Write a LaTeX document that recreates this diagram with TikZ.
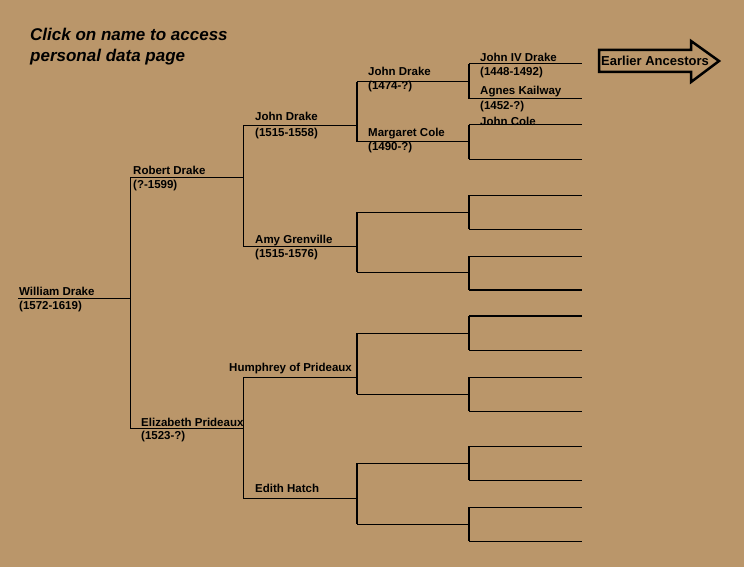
\documentclass[tikz,border=0pt]{standalone}
\usepackage{fontspec}
\setmainfont{Liberation Sans}
\definecolor{parchment}{RGB}{186,150,106}

\tikzset{
  person/.style={font=\fontsize{11.5}{13}\selectfont\bfseries, anchor=base west, inner sep=0pt},
  notetext/.style={font=\fontsize{17}{20}\selectfont\bfseries\itshape, anchor=base west, inner sep=0pt},
  branch/.style={line width=1pt},
  heavy/.style={line width=1.8pt},
}

\begin{document}
\begin{tikzpicture}[x=1pt,y=-1pt]
  % Background (fixes the page size too)
  \fill[parchment] (0,0) rectangle (744,567);

  % Note in the top left corner
  \node[notetext] (clickA) at (30,41) {Click on name to access};
  \node[notetext] (clickB) at (30,62) {personal data page};

  % Left ends of the lines, one per person
  \coordinate (william) at (18,298);
  \coordinate (robert) at (130,177);
  \coordinate (elizabeth) at (130,428);
  \coordinate (johnA) at (243,126);
  \coordinate (amy) at (243,246);
  \coordinate (humphrey) at (243,377);
  \coordinate (edith) at (243,498);
  \coordinate (johnB) at (357,82);
  \coordinate (margaret) at (357,142);
  \coordinate (amyF) at (357,212);
  \coordinate (amyM) at (357,272);
  \coordinate (humF) at (357,333);
  \coordinate (humM) at (357,394);
  \coordinate (edF) at (357,463);
  \coordinate (edM) at (357,524);
  \coordinate (johnC) at (469,64);
  \coordinate (agnes) at (469,99);
  \coordinate (johnCole) at (469,125);
  \coordinate (margM) at (469,159);
  \coordinate (g1) at (469,195);
  \coordinate (g2) at (469,229);
  \coordinate (g3) at (469,256);
  \coordinate (g4) at (469,290);
  \coordinate (g5) at (469,316);
  \coordinate (g6) at (469,350);
  \coordinate (g7) at (469,377);
  \coordinate (g8) at (469,411);
  \coordinate (g9) at (469,446);
  \coordinate (g10) at (469,480);
  \coordinate (g11) at (469,507);
  \coordinate (g12) at (469,541);

  % Generation 0 and 1
  \draw[branch] (william) -- (william -| robert);
  \draw[branch] (robert) -- (elizabeth);
  \draw[branch] (robert) -- (robert -| johnA);
  \draw[branch] (elizabeth) -- (elizabeth -| johnA);

  % Generation 2
  \draw[branch] (johnA) -- (amy);
  \draw[branch] (humphrey) -- (edith);
  \draw[branch] (johnA) -- (johnA -| johnB);
  \draw[branch] (amy) -- (amy -| johnB);
  \draw[branch] (humphrey) -- (humphrey -| johnB);
  \draw[branch] (edith) -- (edith -| johnB);

  % Generation 3
  \draw[heavy] (johnB) -- (margaret);
  \draw[heavy] (amyF) -- (amyM);
  \draw[heavy] (humF) -- (humM);
  \draw[heavy] (edF) -- (edM);
  \draw[branch] (johnB) -- (johnB -| johnC);
  \draw[branch] (margaret) -- (margaret -| johnC);
  \draw[branch] (amyF) -- (amyF -| johnC);
  \draw[branch] (amyM) -- (amyM -| johnC);
  \draw[branch] (humF) -- (humF -| johnC);
  \draw[branch] (humM) -- (humM -| johnC);
  \draw[branch] (edF) -- (edF -| johnC);
  \draw[branch] (edM) -- (edM -| johnC);

  % Generation 4
  \draw[heavy] (johnC) -- (agnes);
  \draw[heavy] (johnCole) -- (margM);
  \draw[heavy] (g1) -- (g2);
  \draw[heavy] (g3) -- (g4);
  \draw[heavy] (g5) -- (g6);
  \draw[heavy] (g7) -- (g8);
  \draw[heavy] (g9) -- (g10);
  \draw[heavy] (g11) -- (g12);
  \draw[branch] (johnC) -- ++(113,0);
  \draw[branch] (agnes) -- ++(113,0);
  \draw[branch] (johnCole) -- ++(113,0);
  \draw[branch] (margM) -- ++(113,0);
  \draw[branch] (g1) -- ++(113,0);
  \draw[branch] (g2) -- ++(113,0);
  \draw[branch] (g3) -- ++(113,0);
  \draw[heavy] (g4) -- ++(113,0);
  \draw[heavy] (g5) -- ++(113,0);
  \draw[branch] (g6) -- ++(113,0);
  \draw[branch] (g7) -- ++(113,0);
  \draw[branch] (g8) -- ++(113,0);
  \draw[branch] (g9) -- ++(113,0);
  \draw[branch] (g10) -- ++(113,0);
  \draw[branch] (g11) -- ++(113,0);
  \draw[branch] (g12) -- ++(113,0);

  % Names and dates
  \node[person] (williamName) at ([shift={(1,-3)}]william) {William Drake};
  \node[person] (williamDates) at ([shift={(1,11)}]william) {(1572-1619)};
  \node[person] (robertName) at ([shift={(3,-2)}]robert) {Robert Drake};
  \node[person] (robertDates) at ([shift={(3,11)}]robert) {(?-1599)};
  \node[person] (elizabethName) at ([shift={(11,-2)}]elizabeth) {Elizabeth Prideaux};
  \node[person] (elizabethDates) at ([shift={(11,11)}]elizabeth) {(1523-?)};
  \node[person] (johnAName) at ([shift={(12,-5)}]johnA) {John Drake};
  \node[person] (johnADates) at ([shift={(12,10)}]johnA) {(1515-1558)};
  \node[person] (amyName) at ([shift={(12,-3)}]amy) {Amy Grenville};
  \node[person] (amyDates) at ([shift={(12,11)}]amy) {(1515-1576)};
  \node[person] (humphreyName) at ([shift={(-14,-6)}]humphrey) {Humphrey of Prideaux};
  \node[person] (edithName) at ([shift={(12,-6)}]edith) {Edith Hatch};
  \node[person] (johnBName) at ([shift={(11,-6)}]johnB) {John Drake};
  \node[person] (johnBDates) at ([shift={(11,8)}]johnB) {(1474-?)};
  \node[person] (margaretName) at ([shift={(11,-5)}]margaret) {Margaret Cole};
  \node[person] (margaretDates) at ([shift={(11,8)}]margaret) {(1490-?)};
  \node[person] (johnCName) at ([shift={(11,-2)}]johnC) {John IV Drake};
  \node[person] (johnCDates) at ([shift={(11,12)}]johnC) {(1448-1492)};
  \node[person] (agnesName) at ([shift={(11,-4)}]agnes) {Agnes Kailway};
  \node[person] (agnesDates) at ([shift={(11,11)}]agnes) {(1452-?)};
  \node[person] (johnColeName) at ([shift={(11,1)}]johnCole) {John Cole};

  % Arrow to the earlier ancestors
  \draw[line width=2.5pt, line join=miter]
    (599,50) -- (691,50) -- (691,41) -- (719,61) -- (691,82) -- (691,72) -- (599,72) -- cycle;
  \node[person, font=\fontsize{13}{15}\selectfont\bfseries] (earlier) at (601,66) {Earlier Ancestors};
\end{tikzpicture}
\end{document}
